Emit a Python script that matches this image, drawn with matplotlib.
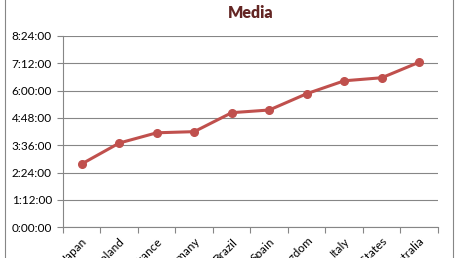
import pandas as pd
import matplotlib
matplotlib.use('Agg')
import matplotlib.pyplot as plt
from matplotlib.ticker import FuncFormatter, MultipleLocator
from matplotlib.lines import Line2D

countries = ['Japan', 'Poland', 'France', 'Germany', 'Brazil',
             'Spain', 'United Kingdom', 'Italy', 'United States', 'Australia']
media_time = ['2:47:00', '3:42:00', '4:09:00', '4:12:00', '5:02:00',
              '5:09:00', '5:52:00', '6:26:00', '6:34:00', '7:15:00']

hours = pd.to_timedelta(media_time).total_seconds() / 3600


def fmt_time(h, pos):
    total = int(round(h * 3600))
    return f"{total // 3600}:{(total % 3600) // 60:02d}:{total % 60:02d}"


plt.rcParams['font.family'] = ['Lato', 'DejaVu Sans']

fig = plt.figure(figsize=(4.58, 2.58), dpi=100)
ax = fig.add_axes([63 / 458, 1 - 227.3 / 258, 375 / 458, 191.3 / 258])

x = range(len(countries))
ax.plot(x, hours, color='#C0504D', lw=2.2, marker='o', markersize=5.5,
        solid_capstyle='round', zorder=3)

ax.set_ylim(0, 8.4)
ax.set_xlim(-0.5, len(countries) - 0.5)
ax.yaxis.set_major_locator(MultipleLocator(1.2))
ax.yaxis.set_major_formatter(FuncFormatter(fmt_time))
ax.grid(axis='y', color='#868686', lw=0.8)
ax.set_axisbelow(True)

# category labels between boundary ticks
ax.set_xticks(list(x))
ax.set_xticklabels(countries, rotation=45, ha='right', va='top',
                   rotation_mode='anchor')
ax.set_xticks([i - 0.5 for i in range(len(countries) + 1)], minor=True)
ax.tick_params(axis='x', which='major', length=0, pad=6, labelsize=8.5)
ax.tick_params(axis='x', which='minor', length=4, color='#868686', width=0.8)
ax.tick_params(axis='y', length=4, color='#868686', width=0.8, labelsize=8.5, pad=4)

for s in ['top', 'right']:
    ax.spines[s].set_visible(False)
for s in ['left', 'bottom']:
    ax.spines[s].set_color('#868686')
    ax.spines[s].set_linewidth(0.8)

ax.set_title('Media', fontsize=11.5, fontweight='heavy', color='#632523', pad=13)

# chart area border
for xb in [5 / 458, 453 / 458]:
    fig.add_artist(Line2D([xb, xb], [0, 1], color='#868686', lw=0.8,
                          transform=fig.transFigure))

fig.savefig('out.png', dpi=100)
